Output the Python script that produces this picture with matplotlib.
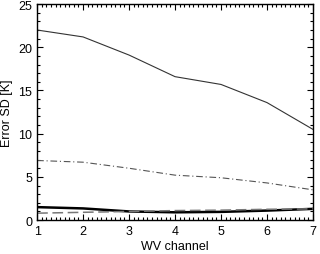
import numpy as np
import matplotlib
matplotlib.use('Agg')
import matplotlib.pyplot as plt
from matplotlib.ticker import MultipleLocator

plt.rcParams['font.family'] = ['Liberation Sans', 'DejaVu Sans']

# data
channels = [1, 2, 3, 4, 5, 6, 7]
sd_top = [22.0, 21.2, 19.1, 16.6, 15.7, 13.6, 10.5]
sd_dashdot = [6.9, 6.7, 6.0, 5.2, 4.9, 4.3, 3.5]
sd_thick = [1.5, 1.35, 1.0, 0.9, 0.95, 1.1, 1.3]
sd_dashed = [0.8, 0.9, 1.0, 1.1, 1.15, 1.25, 1.3]

fig = plt.figure(figsize=(3.2, 2.55), dpi=100)
ax = fig.add_axes([0.116, 0.133, 0.862, 0.847])

ax.plot(channels, sd_top, color='#333333', lw=0.8)
ax.plot(channels, sd_dashdot, color='#555555', lw=0.8, dashes=(6, 2.5, 1, 2.5))
ax.plot(channels, sd_thick, color='black', lw=1.8)
ax.plot(channels, sd_dashed, color='#777777', lw=1.1, dashes=(7, 3))

ax.set_xlim(1, 7)
ax.set_ylim(0, 25)
ax.xaxis.set_major_locator(MultipleLocator(1))
ax.xaxis.set_minor_locator(MultipleLocator(0.1))
ax.yaxis.set_major_locator(MultipleLocator(5))
ax.yaxis.set_minor_locator(MultipleLocator(1))
ax.tick_params(which='both', direction='in', top=True, right=True, labelsize=9, width=0.8)
ax.tick_params(which='major', length=4)
ax.tick_params(which='minor', length=2)
for s in ax.spines.values():
    s.set_linewidth(1.0)

ax.set_xlabel('WV channel', fontsize=9, labelpad=2)
ax.set_ylabel('Error SD [K]', fontsize=9, labelpad=4)

fig.savefig('out.png', dpi=100)
